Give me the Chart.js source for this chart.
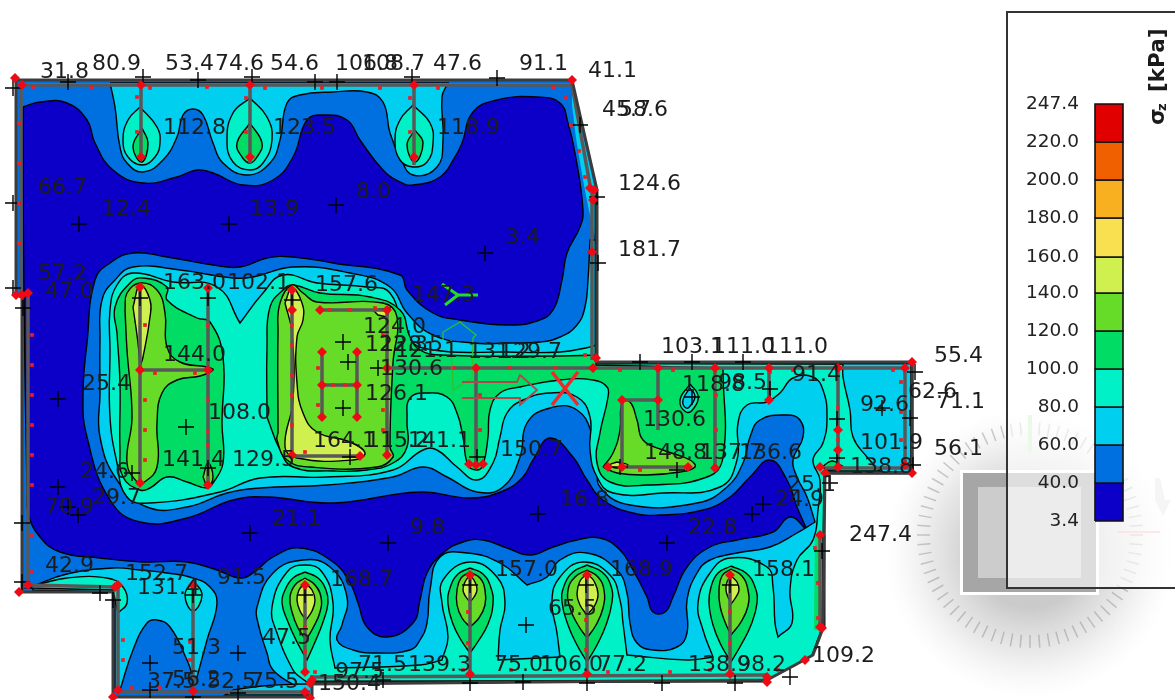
<!DOCTYPE html>
<html><head><meta charset="utf-8">
<style>html,body{margin:0;padding:0;background:#fff}canvas{display:block}</style>
<script src="https://cdn.jsdelivr.net/npm/chart.js@4"></script></head>
<body><canvas id="c" width="1175" height="700"></canvas>
<script>
const LEVEL_COLORS=['#0C00C8','#0070E0','#00CFF0','#00F0C8','#00DC64','#66DC28','#D0F050','#F8E050','#F8B020','#F06000','#E00000'];
const LEVEL_LABELS=['3.4','40.0','60.0','80.0','100.0','120.0','140.0','160.0','180.0','200.0','220.0','247.4'];
const LEVEL_EDGES=[521,483,445,407,369,331,293,257,218,180,142,104];

const plate=[[16,80,1],[572,80,1],[597,190,1],[597,362,1],[912,362,1],[912,473,1],[825,473,1],[823,628,1],[813,655,1],[795,665,1],[767,680,1],[312,684,1],[312,697,1],[113,697,1],[113,592,1],[22,592,1],[22,297,1],[16,295,1]];
const dark=[[23,107],[40,102],[67,103],[87,120],[95,143],[113,170],[143,183],[177,177],[197,170],[213,173],[243,185],[273,180],[293,157],[307,120],[323,115],[347,120],[360,140],[383,170],[400,182],[413,185],[440,177],[455,157],[462,143],[473,112],[497,100],[537,97],[560,103],[568,123],[575,153],[583,210],[580,227],[567,253],[562,280],[553,310],[537,321],[507,325],[460,320],[433,313],[407,290],[400,275],[333,263],[293,257],[267,258],[240,267],[213,265],[167,257],[133,253],[110,263],[95,280],[87,343],[83,393],[87,437],[110,500],[140,522],[187,518],[233,500],[267,497],[333,503],[420,492],[470,498],[503,491],[523,477],[533,460],[550,438],[573,457],[587,480],[603,500],[633,513],[660,515],[703,510],[730,497],[750,477],[770,460],[787,480],[797,507],[807,530,1],[790,517],[773,532],[737,540],[710,547],[687,567],[673,597],[665,612],[653,612],[647,597],[633,570],[620,550],[600,538],[577,540],[553,547],[530,555],[507,548],[483,540],[463,542],[443,553],[427,573],[420,600],[413,623],[387,637],[367,627],[358,603],[350,583],[333,562],[300,548],[273,557],[253,573],[240,578],[217,570],[187,562],[143,562],[100,558],[60,552],[40,537],[28,513],[27,490],[24,300],[23,140]];
const cyanTop=[[110,83,1],[115,107],[120,147],[127,163],[143,172],[163,160],[177,137],[183,115],[193,109],[203,115],[213,143],[223,163],[247,175],[270,163],[280,140],[287,103],[300,95],[333,92],[367,92],[383,102],[390,133],[400,157],[413,175],[437,167],[443,140],[442,97],[448,83,1]];
const cyanStrip=[[22,83,1],[572,83,1],[572,86,1],[22,86,1]];
const cyanSlant=[[572,85,1],[595,190,1],[596,240,1],[590,215],[578,150],[572,105,1]];
const cyanLowerLeft=[[33,586,1],[67,574],[113,568],[140,570],[167,573],[193,578],[210,587],[217,603],[207,640],[197,677,1],[193,677,1],[187,660],[170,627],[157,620],[147,623],[133,650],[120,690,1],[115,690,1],[115,592,1],[33,590,1]];
const cyanBase=[[233,690,1],[262,686],[300,684,1],[312,684,1],[312,695,1],[225,695,1]];
const cyanMain=[[100,393],[100,340],[102,300],[115,280],[133,267],[180,270],[233,278],[253,277],[293,267],[350,273],[390,287],[407,313],[433,335],[473,343],[507,343],[540,342],[560,337],[577,325],[585,307],[588,280],[590,240,1],[596,240,1],[596,363,1],[911,363,1],[911,472,1],[824,472,1],[822,628,1],[812,655,1],[795,665,1],[767,680,1],[310,684,1],[297,687,1],[273,670],[267,653],[258,623],[257,607],[273,573],[303,560],[330,567],[347,597],[342,625],[337,640],[353,650],[377,653],[410,650],[420,640],[427,623],[430,590],[440,557],[467,553],[500,563],[527,585,1],[547,577],[560,560],[587,553],[617,570],[627,593],[630,623],[637,643],[653,650],[677,647],[687,633],[687,600],[697,573],[710,560],[737,553],[770,547],[797,533],[815,522,1],[807,497],[797,477],[793,460],[803,437],[800,420],[787,415],[760,420],[750,437],[743,463],[727,487],[697,503],[630,505],[600,487],[598,465],[593,437],[577,410],[550,408],[527,423],[520,457],[503,487],[477,492],[447,477],[423,467],[393,477],[327,485],[260,488],[227,493],[187,507],[147,507],[117,480],[100,437]];
const tealMain=[[110,350],[110,310],[117,285],[133,273],[173,282],[217,287],[240,323,1],[263,293],[283,275],[317,283],[367,287],[390,293],[407,337],[433,350],[507,352],[560,352],[590,347],[596,345,1],[596,363,1],[843,364,1],[843,377],[850,410],[853,437],[867,457],[880,471,1],[824,471,1],[822,628,1],[812,655,1],[795,665,1],[767,680,1],[310,684,1],[300,677],[293,670],[277,633],[272,607],[287,572],[305,565],[322,572],[333,603],[330,640],[335,668,1],[420,665],[442,660,1],[448,637],[442,603],[443,580],[470,562],[497,577],[505,603],[500,630],[498,660,1],[560,657,1],[557,633],[552,600],[560,577],[583,562],[610,575],[620,600],[623,623],[627,655,1],[687,660],[713,657,1],[703,630],[698,603],[710,573],[730,558],[767,567],[773,587],[775,623],[778,637,1],[792,623],[790,590],[797,560],[813,540],[818,510],[820,480],[813,460],[823,443],[827,417],[823,390],[813,377],[793,378],[780,393],[767,402],[747,405],[738,423],[737,460],[720,487],[663,493],[613,493],[597,477],[590,450],[590,417],[577,397],[550,393],[523,400],[507,413],[500,437],[493,463],[477,480],[457,467],[437,450],[423,450],[393,470],[327,477],[260,478],[220,492],[150,503],[127,497],[117,463],[110,417]];
const tealLowerLeft=[[40,584,1],[67,578],[107,578],[123,587],[127,603],[118,613,1],[113,590,1],[27,588,1]];
const tealPin=[[193,580],[202,595],[193,611],[185,595]];
const domeTeal=[[[140,107,1],[157,127],[160,143],[155,157],[142,165],[128,157],[123,140],[128,120]],[[250,98,1],[267,117],[272,140],[263,163],[250,170],[233,162],[227,140],[233,113]],[[413,105,1],[430,123],[433,143],[427,162],[413,167],[400,160],[395,140],[400,120]]];
const tealOval=[[690,384],[698,395],[694,408],[686,412],[680,400]];
const cyanOval=[[690,388],[695,396],[691,405],[686,408],[683,400]];
const greenLeft=[[117,333],[115,307],[130,283],[143,278],[167,287],[167,300],[197,318],[210,322],[223,357],[222,423],[223,463],[213,483],[207,488],[187,482],[167,477],[150,488],[140,490],[123,477],[120,450],[120,383]];
const greenMain=[[267,417],[267,347],[270,307],[283,290],[293,285],[320,293],[370,297],[400,310],[410,337],[420,350],[440,355],[560,356],[596,355,1],[596,365,1],[723,368,1],[723,457],[707,477],[647,485],[610,482],[597,463],[600,433],[608,397],[607,387],[593,380],[560,380],[520,387],[500,393],[490,410],[488,437],[483,465],[477,470],[468,465],[463,437],[457,413],[447,397],[427,393],[410,398],[407,420],[407,447],[393,463],[367,470],[333,471],[293,467],[280,450]];
const domeGreen=[[[142,128],[148,143],[142,162],[133,147]],[[250,123],[262,143],[257,157],[250,163],[242,157],[237,143]],[[415,130],[423,143],[415,162],[407,145]],
 [[305,572],[318,578],[326,590],[328,603],[323,622],[315,642],[307,660,1],[297,642],[288,622],[282,603],[285,590],[293,578]],
 [[470,568],[483,574],[491,588],[493,604],[488,624],[479,640],[470,653,1],[461,640],[453,624],[448,604],[450,588],[458,574]],
 [[587,565],[602,572],[611,586],[612,602],[606,625],[597,645],[587,662,1],[577,645],[568,625],[562,602],[564,586],[573,572]],
 [[731,566],[746,573],[755,587],[757,603],[751,625],[741,645],[731,662,1],[721,645],[713,625],[709,603],[711,587],[718,573]]];
const greenTip=[[822,467,1],[832,461],[842,466,1],[832,470]];
const greenEdge=[[815,535,1],[820,535,1],[820,630,1],[814,630,1]];
const limeLeft=[[125,310],[127,293],[140,283],[157,290],[165,313],[167,347],[180,362],[207,367],[213,370],[200,376],[177,380],[162,393],[157,423],[157,467],[143,483],[137,482],[127,463],[132,417],[127,350]];
const limeTip=[[203,477],[208,463],[213,477],[208,487]];
const limeCentre=[[278,433],[278,333],[280,303],[292,285],[303,293],[317,302],[383,303],[397,317],[393,363],[390,447],[393,457],[377,467],[310,467],[287,460],[277,440]];
const limeRight=[[603,467],[613,453],[620,430],[622,403],[630,402],[637,420],[643,440],[663,450],[690,460],[695,467],[680,472],[647,475],[617,473]];
const domeLime=[[[305,578],[315,585],[321,597],[320,612],[313,628],[306,640,1],[298,628],[292,612],[290,597],[295,585]],
 [[470,572],[480,578],[485,590],[485,605],[479,618],[470,627,1],[462,618],[457,605],[457,590],[461,578]],
 [[587,570],[598,577],[604,590],[603,608],[596,625],[587,638,1],[578,625],[570,608],[568,590],[575,577]],
 [[731,569],[742,576],[748,590],[748,606],[741,622],[731,635,1],[725,622],[720,606],[719,590],[722,576]]];
const yellowLeft=[[133,307],[140,285],[150,300],[150,317],[143,357],[140,367,1],[138,343]];
const yellowCentre=[[285,303],[292,288],[302,303],[303,320],[297,337],[297,383],[303,413],[317,432],[350,442],[365,453],[353,460],[297,458],[285,447],[293,400],[292,333]];
const yellowSmall=[[373,310,1],[390,308,1],[387,317,1],[378,315,1]];
const yellowNode=[[617,462],[628,465],[617,468],[610,465]];
const domeYellow=[[[305,583],[312,590],[315,600],[312,611],[306,620,1],[300,611],[297,600],[299,590]],
 [[470,575],[475,582],[477,590],[474,597],[470,602,1],[466,597],[463,590],[465,582]],
 [[587,574],[594,581],[598,594],[595,605],[587,615,1],[580,605],[577,594],[580,581]],
 [[731,576],[737,582],[739,590],[736,597],[731,604,1],[728,597],[726,590],[727,582]]];

const beams=[[[141,84],[141,160]],[[250,84],[250,163]],[[414,84],[414,165]],[[140,287],[140,483]],[[208,288],[208,485]],[[140,370],[208,370]],[[292,290],[292,456]],[[320,310],[387,310]],[[387,310],[387,455]],[[292,456],[360,456]],[[322,352],[322,417]],[[357,352],[357,417]],[[322,385],[357,385]],[[387,368],[907,368]],[[476,368],[476,465]],[[658,368],[658,430]],[[622,400],[658,400]],[[622,400],[622,467]],[[622,467],[688,467]],[[715,368],[715,468]],[[769,368],[769,400]],[[838,368],[838,468]],[[825,468],[910,468]],[[905,368],[905,468]],[[21,85],[21,295]],[[28,295],[28,585]],[[28,585],[115,587]],[[118,587],[118,692]],[[118,692],[310,692]],[[193,585],[193,692]],[[305,585],[305,675]],[[470,575],[470,675]],[[587,575],[587,675]],[[730,575],[730,675]],[[310,677],[767,675]],[[22,85],[572,85]],[[572,85],[590,185]],[[592,190],[592,360]],[[820,535],[820,628]]];
const edgeBlack=[[[596,195],[596,362]],[[824,535],[824,628]],[[597,363],[912,363]],[[312,682],[767,681]],[[912,362],[912,473]],[[824,473],[912,473]]];
const greenY=[[[442,284],[458,295],[445,305]],[[458,295],[478,295]]];
const greenThin=[[[443,340],[443,332],[460,322],[476,335],[473,338],[472,378],[453,390],[451,340]]];
const redX=[[[552,372],[578,405]],[[578,372],[552,405]]];
const brownArrows=[[[462,382],[517,382],[520,375],[537,390],[520,405],[520,398],[462,398]]];

const nodes=[[15,78],[22,85],[572,80],[141,85],[250,85],[414,85],[141,157],[250,157],[414,157],[140,287],[140,370],[140,483],[208,288],[208,370],[208,485],[292,290],[292,310],[292,455],[320,310],[387,310],[387,455],[360,456],[322,352],[357,352],[322,385],[357,385],[322,417],[357,417],[387,368],[476,465],[469,464],[483,464],[476,368],[593,368],[596,358],[658,368],[715,368],[769,368],[838,368],[905,368],[912,362],[658,400],[622,400],[622,467],[688,467],[608,467],[715,468],[769,400],[838,430],[838,450],[820,467],[825,473],[838,467],[905,465],[912,473],[594,190],[590,188],[593,200],[592,252],[16,295],[22,295],[28,293],[19,592],[28,585],[115,587],[118,585],[193,585],[113,697],[118,690],[193,691],[305,585],[305,672],[310,683],[312,680],[305,692],[310,698],[470,575],[587,575],[730,575],[470,674],[587,674],[730,674],[767,677],[767,682],[805,660],[822,628],[820,535],[820,627]];
const ticks=[[33,87],[92,88],[150,88],[207,87],[265,88],[322,88],[380,88],[438,88],[553,88],[566,98],[137,97],[246,98],[410,98],[137,132],[246,132],[410,132],[571,125],[579,151],[585,177],[19,123],[19,163],[19,203],[19,243],[32,335],[32,365],[32,395],[32,425],[32,455],[32,485],[32,535],[32,572],[145,325],[145,400],[145,430],[145,460],[208,325],[208,400],[208,432],[208,445],[155,373],[195,373],[292,325],[292,345],[292,375],[292,395],[292,425],[305,452],[330,310],[350,310],[375,308],[318,368],[318,405],[333,385],[345,385],[383,335],[383,410],[383,430],[480,395],[480,430],[454,368],[510,368],[555,368],[585,355],[620,370],[673,370],[640,470],[716,395],[716,430],[770,372],[838,408],[838,440],[793,370],[893,370],[901,382],[901,412],[901,440],[123,640],[123,660],[190,642],[190,660],[132,688],[160,688],[305,627],[305,652],[315,672],[468,612],[468,643],[586,620],[586,650],[730,612],[730,643],[463,670],[511,670],[560,670],[608,672],[670,672],[710,670],[778,670],[815,548],[818,583],[818,618]];
const crosses=[[79,224],[229,224],[336,205],[485,253],[58,399],[58,487],[186,427],[68,82],[143,77],[198,80],[252,77],[315,82],[337,82],[412,77],[497,78],[580,125],[597,197],[598,263],[13,88],[13,203],[13,288],[23,308],[22,523],[22,582],[78,515],[68,507],[250,533],[388,543],[150,663],[100,593],[113,600],[238,653],[193,595],[305,595],[150,690],[193,697],[238,693],[383,680],[538,514],[667,543],[752,514],[763,504],[822,551],[526,625],[470,585],[586,585],[730,585],[470,683],[523,682],[587,683],[662,683],[735,683],[790,677],[640,362],[692,362],[743,362],[770,389],[692,397],[837,419],[837,458],[915,372],[910,418],[913,465],[830,483],[882,408],[677,470],[620,467],[140,298],[208,298],[292,300],[343,342],[348,362],[378,368],[343,408],[350,457],[208,468],[132,473],[477,457]];

const plateLabels=['31.8','80.9','53.4','74.6','54.6','106.8','108.7','47.6','91.1','41.1','45.7','58.6','124.6','181.7','66.7','12.4','13.9','8.0','3.4','112.8','123.5','118.9','57.2','47.0','163.0','102.1','157.6','147.3','124.0','122.3','128.5','121.1','131.2','129.7','130.6','144.0','25.4','108.0','126.1','164.1','115.2','141.1','150.7','141.4','129.5','24.6','29.7','70.9','21.1','9.8','16.8','22.8','25.1','24.9','42.9','152.7','131.4','91.5','168.7','157.0','168.9','158.1','65.5','51.3','47.5','37.5','56.2','52.5','75.5','150.4','97.5','71.5','139.3','75.0','106.0','77.2','138.9','98.2','109.2','247.4','55.4','62.6','71.1','92.6','101.9','56.1','138.8','148.8','137.7','136.6','103.1','111.0','111.0','118.8','98.5','91.4','130.6'];
const labelX=[40,92,165,215,270,335,362,433,519,588,602,619,618,618,38,102,250,356,505,163,273,437,38,45,163,227,315,412,363,365,380,395,468,499,380,163,82,208,365,313,366,408,500,162,232,80,92,45,272,410,560,688,787,775,45,125,137,217,330,495,610,752,548,172,262,147,172,207,250,318,335,358,408,494,540,598,688,737,812,849,934,908,936,860,860,934,850,644,700,739,661,712,765,682,718,792,643];
const labelY=[72,64,64,64,64,64,64,64,64,71,110,110,184,250,188,209,209,192,238,128,128,128,274,292,283,283,285,295,327,345,345,351,352,352,369,355,384,413,394,441,441,441,450,460,460,472,498,507,519,528,500,528,485,500,566,574,588,578,580,570,570,570,609,648,638,682,680,682,682,684,672,665,665,665,665,665,665,665,656,535,356,392,402,405,443,449,467,453,453,453,347,347,347,385,383,375,420];

const pts=a=>{const o=[];a.forEach(p=>{o.push({x:p[0],y:p[1]});if(p[2])o.push({x:p[0],y:p[1]})});return o};
const ds=[];
function shape(a,level,w){const d=pts(a);d.push({x:a[0][0],y:a[0][1]});ds.push({showLine:true,data:d,fill:'shape',backgroundColor:LEVEL_COLORS[level],borderColor:'#000',borderWidth:w===undefined?1.4:w,tension:.45,pointRadius:0});}
function stroke(list,color,w){list.forEach(a=>ds.push({showLine:true,data:pts(a),fill:false,borderColor:color,borderWidth:w,tension:0,pointRadius:0}));}

shape(plate,1,0);
shape(dark,0);
shape(cyanMain,2);shape(cyanTop,2);shape(cyanStrip,2,0);shape(cyanSlant,2,0);shape(cyanLowerLeft,2);shape(cyanBase,2);
shape(tealMain,3);shape(tealLowerLeft,3);shape(tealPin,3);domeTeal.forEach(a=>shape(a,3));
shape(greenLeft,4);shape(greenMain,4);domeGreen.forEach(a=>shape(a,4));shape(greenTip,4);shape(greenEdge,4,0);
shape(tealOval,3);shape(cyanOval,2);
shape(limeLeft,5);shape(limeTip,5);shape(limeCentre,5);shape(limeRight,5);domeLime.forEach(a=>shape(a,5));
shape(yellowLeft,6);shape(yellowCentre,6);shape(yellowSmall,6);shape(yellowNode,6);domeYellow.forEach(a=>shape(a,6));
stroke(beams,'#585858',3.5);
stroke(edgeBlack,'#111',3);
stroke([[...plate.map(p=>[p[0],p[1]]),[plate[0][0],plate[0][1]]]],'#3c3c3c',3);
stroke(greenThin,'#30c030',1.3);stroke(brownArrows,'#b04848',1.8);stroke(greenY,'#22dd22',3);stroke(redX,'#f02828',3.5);
ds.push({data:pts(crosses),pointStyle:'cross',pointRadius:8,borderColor:'#000',borderWidth:1.4,backgroundColor:'#000'});
ds.push({data:pts(ticks),pointStyle:'rect',pointRadius:2.6,borderWidth:0,backgroundColor:'#ee1c25'});
ds.push({data:pts(nodes),pointStyle:'rectRot',pointRadius:5,borderWidth:0,backgroundColor:'#ee0a14'});
// colour bar
LEVEL_COLORS.forEach((c,i)=>{const y0=LEVEL_EDGES[i],y1=LEVEL_EDGES[i+1];
 const d=[{x:1095,y:y0},{x:1123,y:y0},{x:1123,y:y1},{x:1095,y:y1},{x:1095,y:y0}];
 ds.push({showLine:true,data:d,fill:'shape',backgroundColor:c,borderColor:'#111',borderWidth:1.6,tension:0,pointRadius:0});});

const deco={id:'deco',
 beforeDatasetsDraw(ch){const g=ch.ctx;g.save();
  const cx=1030,cy=535,gy=cy+18;
  const rg=g.createRadialGradient(cx,gy,55,cx,gy,145);
  rg.addColorStop(0,'rgba(130,130,130,.42)');rg.addColorStop(.5,'rgba(170,170,170,.26)');rg.addColorStop(1,'rgba(210,210,210,0)');
  g.fillStyle=rg;g.beginPath();g.arc(cx,gy,145,0,Math.PI*2);g.fill();
  g.strokeStyle='rgba(120,120,120,.38)';g.lineWidth=1.5;
  for(let a=0;a<360;a+=5){const t=a*Math.PI/180;g.beginPath();g.moveTo(cx+100*Math.cos(t),cy+100*Math.sin(t));g.lineTo(cx+113*Math.cos(t),cy+113*Math.sin(t));g.stroke();}
  g.fillStyle='#fff';g.fillRect(960,470,139,125);
  g.fillStyle='#a6a6a6';g.fillRect(963,473,133,119);
  g.fillStyle='#cccccc';g.fillRect(978,487,103,91);
  g.strokeStyle='#c8f0c8';g.lineWidth=4;g.beginPath();g.moveTo(1030,415);g.lineTo(1030,453);g.stroke();
  g.strokeStyle='#f4b4b4';g.lineWidth=1.5;g.beginPath();g.moveTo(1117,532);g.lineTo(1160,532);g.stroke();
  g.fillStyle='#e4e4e4';g.beginPath();g.moveTo(1155,478);g.lineTo(1160,478);g.lineTo(1165,500);g.lineTo(1171,500);g.lineTo(1163,516);g.lineTo(1155,500);g.fill();
  g.fillStyle='rgba(255,255,255,.62)';g.fillRect(1006,11,169,577);
  g.strokeStyle='#333';g.lineWidth=2;g.beginPath();g.moveTo(1175,12);g.lineTo(1007,12);g.lineTo(1007,588);g.lineTo(1175,588);g.stroke();
  g.restore();},
 afterDatasetsDraw(ch){const g=ch.ctx,xs=ch.scales.x,ys=ch.scales.y;g.save();
  g.font='22px "DejaVu Sans"';g.textBaseline='middle';g.textAlign='left';g.fillStyle='#1c1c1c';
  plateLabels.forEach((t,i)=>g.fillText(t,xs.getPixelForValue(labelX[i]),ys.getPixelForValue(labelY[i])));
  g.font='18.5px "DejaVu Sans"';g.textAlign='right';g.fillStyle='#222';
  LEVEL_LABELS.forEach((t,i)=>g.fillText(t,1079,LEVEL_EDGES[i]));
  g.translate(1158,125);g.rotate(-Math.PI/2);g.textAlign='left';g.fillStyle='#1a1a1a';
  g.font='bold 21.5px "DejaVu Sans"';g.fillText('σ',0,0);
  g.font='bold 13px "DejaVu Sans"';g.fillText('z',14,5);
  g.font='bold 21.5px "DejaVu Sans"';g.fillText('[kPa]',33,0);
  g.restore();}
};
ds.reverse();
new Chart(document.getElementById('c'),{type:'scatter',data:{datasets:ds},plugins:[deco],
 options:{responsive:false,animation:false,events:[],layout:{padding:0,autoPadding:false},
  plugins:{legend:{display:false},tooltip:{enabled:false},title:{display:false}},
  scales:{x:{type:'linear',min:0,max:1175,display:false},y:{type:'linear',min:0,max:700,reverse:true,display:false}}}});
</script></body></html>
